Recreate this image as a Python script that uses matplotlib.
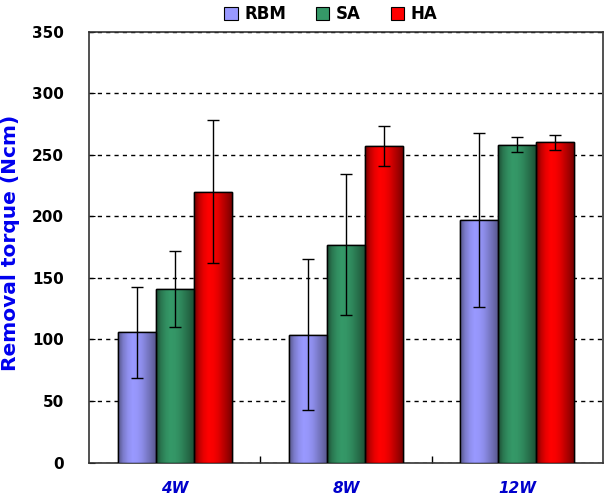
import numpy as np
import matplotlib
matplotlib.use('Agg')
import matplotlib.pyplot as plt
from matplotlib.colors import LinearSegmentedColormap
from matplotlib.patches import Rectangle

weeks = ['4W', '8W', '12W']
series = ['RBM', 'SA', 'HA']
rbm = [106, 104, 197]
rbm_err = [37, 61, 71]
sa = [141, 177, 258]
sa_err = [31, 57, 6]
ha = [220, 257, 260]
ha_err = [58, 16, 6]

# (dark edge, light middle) for the cylinder-like shading
shades = [('#555588', '#9999ff'), ('#1c4d33', '#359968'), ('#700000', '#ff0000')]

fig = plt.figure(figsize=(6.12, 5.01), dpi=100)
ax = fig.add_axes([0.1454, 0.0766, 0.84, 0.8604])

x = np.arange(len(weeks))
w = 0.222
values = [rbm, sa, ha]
errors = [rbm_err, sa_err, ha_err]

grad = np.array([0.0, 0.55, 0.85, 1.0, 0.95, 0.8, 0.55, 0.3, 0.0])
grad = np.interp(np.linspace(0, 8, 64), np.arange(9), grad)[None, :]

handles = []
for i, (vals, errs) in enumerate(zip(values, errors)):
    pos = x + (i - 1) * w
    cmap = LinearSegmentedColormap.from_list('c%d' % i, shades[i])
    bars = ax.bar(pos, vals, width=w, color=shades[i][1], edgecolor='black',
                  linewidth=1.0, zorder=3, label=series[i])
    for b in bars:
        im = ax.imshow(grad, cmap=cmap, aspect='auto', vmin=0, vmax=1,
                       extent=[b.get_x(), b.get_x() + b.get_width(), 0, b.get_height()],
                       zorder=3.5)
        im.set_clip_path(b)
        rect = Rectangle((b.get_x(), 0), b.get_width(), b.get_height(), fill=False,
                         edgecolor='black', linewidth=1.0, zorder=4)
        ax.add_patch(rect)
    ax.errorbar(pos, vals, yerr=errs, fmt='none', ecolor='black', elinewidth=1,
                capsize=4, capthick=1, zorder=5)
    handles.append(Rectangle((0, 0), 1, 1, facecolor=shades[i][1], edgecolor='black',
                             linewidth=0.8))

ax.set_xlim(-0.5, 2.5)
ax.set_ylim(0, 350)
ax.set_yticks(np.arange(0, 351, 50))
ax.set_yticklabels([str(v) for v in range(0, 351, 50)], fontsize=11, fontweight='bold')
ax.set_xticks(x)
ax.set_xticklabels(weeks, fontsize=11, fontweight='bold', color='#0000cc', style='italic')
ax.tick_params(axis='x', length=0, pad=13)
ax.tick_params(axis='y', length=4, direction='in', pad=18)
ax.set_xticks([0.5, 1.5], minor=True)
ax.tick_params(axis='x', which='minor', length=5, direction='in', width=1)
ax.yaxis.grid(True, linestyle=(0, (3, 3)), color='black', linewidth=1, zorder=0)
ax.set_axisbelow(True)
for s in ax.spines.values():
    s.set_color('#333333')
    s.set_linewidth(1.2)

ax.set_ylabel('Removal torque (Ncm)', fontsize=14.5, fontweight='bold', color='#0000ee')
ax.yaxis.set_label_coords(-0.134, 0.51)

fig.legend(handles, series, loc='upper center', bbox_to_anchor=(331 / 612, 1.02), ncol=3,
           frameon=False, prop={'weight': 'bold', 'size': 12}, handlelength=0.8,
           handleheight=0.8, columnspacing=1.8, handletextpad=0.4)

fig.savefig('out.png', dpi=100)
